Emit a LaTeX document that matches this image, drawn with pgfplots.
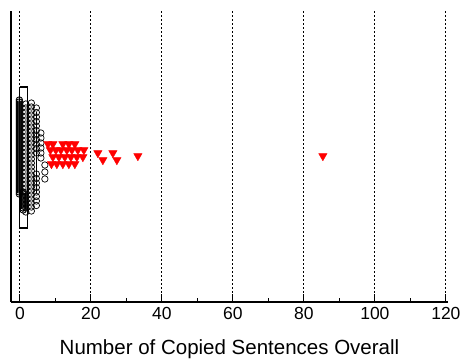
\documentclass[border=0pt]{standalone}
\usepackage{fontspec}
\setmainfont{Liberation Sans}
\usepackage{pgfplots}
\pgfplotsset{compat=1.18}
\begin{document}
\begin{tikzpicture}
\begin{axis}[
  scale only axis, width=437pt, height=291pt,
  xmin=-2.5, xmax=120.6,
  ymin=11, ymax=302, y dir=reverse,
  axis x line*=bottom, axis y line*=left,
  x axis line style={line width=1.4pt},
  y axis line style={line width=2.2pt},
  ytick=\empty,
  xtick={0,20,...,120},
  minor x tick num=1,
  tick align=inside,
  major tick length=8pt, minor tick length=4pt,
  tick style={black, line width=1.1pt},
  xmajorgrids,
  major grid style={black, dash pattern=on 2pt off 2pt, line width=0.8pt},
  /pgf/number format/assume math mode=true,
  xticklabel style={font=\fontsize{17.5}{20}\selectfont, anchor=base, yshift=-17pt},
  xlabel={Number of Copied Sentences Overall},
  xlabel style={font=\fontsize{20.5}{25}\selectfont, at={(axis description cs:0.5,0)}, anchor=base, yshift=-52.5pt},
  clip=false,
]
% outer box
\addplot[black, line width=1.2pt, mark=none] coordinates {(-0.08,87) (2.1,87) (2.1,228) (-0.08,228) (-0.08,87)};
% thin line
\addplot[black, line width=0.8pt, mark=none] coordinates {(4.7,112) (4.7,193)};
% dense column A
\addplot[only marks, mark=o, mark size=3.2pt, line width=0.9pt, black] coordinates {
(-0.15,100)(-0.15,102)(-0.15,104)(-0.15,106)(-0.15,108)(-0.15,110)(-0.15,112)(-0.15,114)(-0.15,116)(-0.15,118)
(-0.15,120)(-0.15,122)(-0.15,124)(-0.15,126)(-0.15,128)(-0.15,130)(-0.15,132)(-0.15,134)(-0.15,136)(-0.15,138)
(-0.15,140)(-0.15,142)(-0.15,144)(-0.15,146)(-0.15,148)(-0.15,150)(-0.15,152)(-0.15,154)(-0.15,156)(-0.15,158)
(-0.15,160)(-0.15,162)(-0.15,164)(-0.15,166)(-0.15,168)(-0.15,170)(-0.15,172)(-0.15,174)(-0.15,176)(-0.15,178)
(-0.15,180)(-0.15,182)(-0.15,184)(-0.15,186)(-0.15,188)(-0.15,190)(-0.15,192)(-0.15,194)};
% dense column B
\addplot[only marks, mark=o, mark size=3.2pt, line width=0.9pt, black] coordinates {
(0.93,192)(0.93,194)(0.93,196)(0.93,198)(0.93,200)(0.93,202)(0.93,204)(0.93,206)(0.93,208)(0.93,210)};
% circle columns
\addplot[only marks, mark=o, mark size=3.2pt, line width=0.7pt, black] coordinates {
(1.69,104)(1.69,108)(1.69,112)(1.69,116)(1.69,120)(1.69,124)(1.69,128)(1.69,132)(1.69,136)(1.69,140)
(1.69,144)(1.69,148)(1.69,152)(1.69,156)(1.69,160)(1.69,164)(1.69,168)(1.69,172)(1.69,176)(1.69,180)
(1.69,184)(1.69,188)(1.69,192)(1.69,196)(1.69,200)(1.69,204)(1.69,208)(1.69,212)
(3.24,103)(3.24,107)(3.24,111)(3.24,115)(3.24,119)(3.24,123)(3.24,127)(3.24,131)(3.24,135)(3.24,139)
(3.24,143)(3.24,147)(3.24,151)(3.24,155)(3.24,159)(3.24,163)(3.24,167)(3.24,171)(3.24,175)(3.24,179)
(3.24,183)(3.24,187)(3.24,191)(3.24,195)(3.24,199)(3.24,203)(3.24,207)(3.24,211)
(4.65,108)(4.65,112.5)(4.65,117)(4.65,121.5)(4.65,126)(4.65,130.5)(4.65,135)(4.65,139.5)(4.65,144)(4.65,148.5)(4.65,153)
(4.65,174)(4.65,178.5)(4.65,183)(4.65,187.5)(4.65,192)(4.65,196.5)(4.65,201)(4.65,205.5)
(5.92,133)(5.92,138)(5.92,143)(5.92,148)(5.92,153)(5.92,158)
(7.04,165)(7.04,172)(7.04,179)};
% red triangles
\addplot[only marks, mark=triangle*, mark size=4.8pt, red, mark options={rotate=180, fill=red, draw=red}] coordinates {
(7.9,144)(9.3,144)(12.11,144)(13.80,144)(15.49,144)
(8.6,150)(10.14,150)(11.55,150)(13.24,150)(14.65,150)(16.34,150)(18.03,150)
(9.30,157)(10.99,157)(12.68,157)(14.37,157)(16.06,157)(17.75,157)
(8.9,164)(10.42,164)(12.11,164)(13.80,164)(15.49,164)
(21.97,153)(23.38,160)(26.20,153)(27.32,160)(33.24,156)(85.35,156)};
\end{axis}
\pgfresetboundingbox
\path (current axis.south west) ++(-11pt,-57pt) rectangle ([xshift=17pt,yshift=11pt]current axis.north east);
\end{tikzpicture}
\end{document}
